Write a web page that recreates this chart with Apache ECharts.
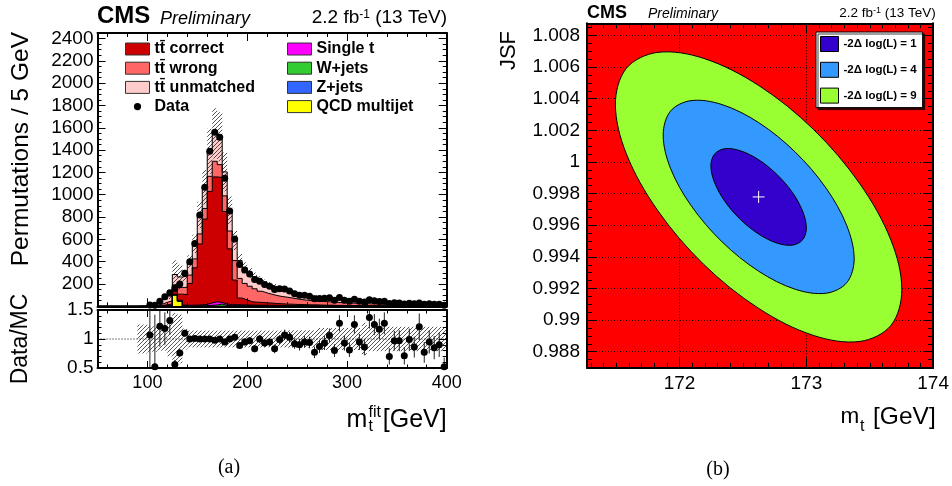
<!DOCTYPE html>
<html><head><meta charset="utf-8">
<script src="https://cdn.jsdelivr.net/npm/echarts@6/dist/echarts.min.js"></script>
<style>html,body{margin:0;padding:0;background:#fff;}#chart{width:952px;height:486px;}</style>
</head><body><div id="chart"></div>
<script>
const FONT = "'Liberation Sans', Arimo, Arial, sans-serif";
const SERIF = "'Liberation Serif', 'DejaVu Serif', serif";

// ---------- (a) m_t^fit distribution, 5 GeV bins (low edges) ----------
const binLow = [90,95,100,105,110,115,120,125,130,135,140,145,150,155,160,165,170,175,180,185,190,195,
  200,205,210,215,220,225,230,235,240,245,250,255,260,265,270,275,280,285,290,295,
  300,305,310,315,320,325,330,335,340,345,350,355,360,365,370,375,380,385,390,395];
const ttCorrect = [0,0, 0,1,3,8,14,35,55,95,195,335,545,765,1000,1120,1120,830,500,220,
  60,45,30,27,25,22,20,17,15,13,12,11,10,9,8,8,7,6,6,5,5,4,4,4,3,3,3,3,2,2,2,2,2,2,2,1,1,1,1,1,1,1];
const ttWrong = [1,1, 3,6,12,22,28,50,60,65,75,80,90,95,135,140,115,140,160,175,
  176,148,139,120,100,89,79,72,65,62,56,50,44,41,38,34,33,32,29,28,25,24,23,20,20,19,17,16,16,15,14,13,13,12,11,12,11,11,10,10,9,9];
const ttUnmatched = [2,3, 6,10,18,36,43,92,94,100,120,135,170,190,225,250,250,215,185,180,
  160,140,120,108,100,90,82,78,72,66,60,56,52,48,44,41,38,35,33,31,29,27,25,24,22,21,20,19,18,17,16,15,14,14,13,12,12,11,11,10,10,9];
const singleTop = [0,0, 1,1,2,3,4,4,5,6,6,7,9,12,22,28,15,12,10,9,
  8,7,6,6,5,5,5,5,5,4,4,3,3,3,3,3,2,2,2,2,2,2,2,2,2,1,1,1,1,1,1,1,1,1,1,1,1,1,1,1,1,1];
const wJets = [0,0, 1,1,2,3,3,3,3,4,4,3,5,5,8,12,20,8,5,6,
  5,4,4,3,4,3,3,2,2,2,2,2,2,1,1,1,1,1,1,1,1,1,1,1,1,1,1,1,1,1,1,1,0,0,0,0,0,0,0,0,0,0];
const zJets = [0,0, 0,0,0,0,0,1,1,0,0,0,0,0,0,0,0,0,0,0,
  1,1,1,1,1,1,1,1,1,1,1,1,1,1,1,1,1,1,1,0,0,0,0,0,0,0,0,0,0,0,0,0,0,0,0,0,0,0,0,0,0,0];
const qcdMultijet = [0,0, 0,0,0,0,0,100,45,0,0,0,0,0,0,0,0,0,0,0,
  0,0,0,0,0,0,0,0,0,0,0,0,0,0,0,0,0,0,0,0,0,0,0,0,0,0,0,0,0,0,0,0,0,0,0,0,0,0,0,0,0,0];
const dataCounts = [null,null, 12,10,45,85,122,160,200,296,400,562,819,1067,1390,1560,1515,1148,855,604,
  375,326,290,240,225,195,180,150,158,155,138,112,100,98,90,68,71,72,76,54,79,54,45,64,46,39,58,50,44,46,24,31,29,21,27,22,30,18,22,19,19,10];
const mcRelUnc = [0.25,0.25, 0.22,0.22,0.20,0.20,0.30,0.45,0.42,0.18,
  0.145,0.145,0.145,0.145,0.145,0.145,0.145,0.145,0.145,0.145,0.145,0.145,0.145,0.145,0.145,0.145,0.145,0.145,0.145,0.145,
  0.15,0.15,0.15,0.15,0.15,0.15, 0.19,0.19,0.19,0.19,0.19,0.19,0.19,0.19,0.19, 0.28,
  0.21,0.21,0.21,0.21,0.21,0.21,0.21,0.21,0.21,0.21,0.21,0.21,0.21,0.21,0.21,0.21];
const ratioVals = [null,null, 1.07,0.52,1.22,1.18,1.32,0.56,0.76,1.10,1.00,1.01,1.00,1.00,1.00,0.98,1.00,0.95,1.00,1.03,
  0.89,0.95,0.97,0.83,1.00,0.93,0.95,0.83,0.99,1.07,1.03,0.92,0.90,0.95,0.94,0.77,0.87,0.93,1.06,0.80,1.27,0.93,0.81,1.25,0.95,0.86,1.37,1.25,1.17,1.27,0.70,0.97,0.97,0.71,0.99,0.86,1.21,0.77,0.95,0.85,0.90,0.52];
const ratioErr = [null,null, 0.9,0.9,0.35,0.28,0.25,0.08,0.07,0.06,0.05,0.045,0.04,0.035,0.03,0.03,0.03,0.03,0.035,0.045,
  0.05,0.06,0.06,0.06,0.07,0.07,0.07,0.075,0.08,0.09,0.09,0.09,0.10,0.10,0.10,0.10,0.11,0.12,0.12,0.11,0.14,0.13,0.12,0.16,0.14,0.14,0.19,0.18,0.18,0.19,0.14,0.17,0.18,0.15,0.19,0.18,0.23,0.18,0.20,0.20,0.21,0.16];
const BIN_WIDTH = 5;
const MFIT_TICKS = [100, 200, 300, 400];
const MFIT_MINOR = [60, 80, 120, 140, 160, 180, 220, 240, 260, 280, 320, 340, 360, 380];

// ---------- (b) 2D likelihood contours ----------
const FIT_POINT = [172.6235, 0.99779];
const contour1 = [[173.000,0.99583],[172.971,0.99508],[172.890,0.99474],[172.768,0.99487],[172.624,0.99544],[172.479,0.99637],[172.357,0.99751],[172.276,0.99870],[172.247,0.99975],[172.276,1.00050],[172.357,1.00084],[172.479,1.00071],[172.624,1.00014],[172.768,0.99921],[172.890,0.99807],[172.971,0.99688]];
const contour4 = [[173.377,0.99387],[173.319,0.99237],[173.156,0.99170],[172.912,0.99195],[172.624,0.99309],[172.335,0.99495],[172.091,0.99724],[171.928,0.99961],[171.871,1.00171],[171.928,1.00321],[172.091,1.00388],[172.335,1.00363],[172.624,1.00249],[172.912,1.00063],[173.156,0.99834],[173.319,0.99597]];
const contour9 = [[173.753,0.99192],[173.667,0.98966],[173.422,0.98865],[173.056,0.98903],[172.624,0.99074],[172.191,0.99352],[171.825,0.99696],[171.580,1.00052],[171.494,1.00366],[171.580,1.00592],[171.825,1.00693],[172.191,1.00655],[172.624,1.00484],[173.056,1.00206],[173.422,0.99862],[173.667,0.99506]];
const MT_RANGE = [171.27, 174];
const JSF_RANGE = [0.98699, 1.00877];
const MT_TICKS = [172, 173, 174];
const JSF_TICKS = [0.988, 0.99, 0.992, 0.994, 0.996, 0.998, 1, 1.002, 1.004, 1.006, 1.008];
const MT_MINOR = []; for (let i = 1713; i <= 1739; i++) if (i % 10) MT_MINOR.push(i / 10);
const JSF_MINOR = []; for (let i = 1974; i <= 2017; i++) if (i % 4) JSF_MINOR.push(i * 5 / 10000);

// ---------- helpers ----------
const BLACK = '#000';
function makeHatch() {
  const c = document.createElement('canvas'); c.width = 4; c.height = 4;
  const g = c.getContext('2d');
  g.strokeStyle = 'rgba(0,0,0,0.85)'; g.lineWidth = 0.8;
  g.beginPath();
  g.moveTo(0, 4); g.lineTo(4, 0);
  g.moveTo(-1, 1); g.lineTo(1, -1);
  g.moveTo(3, 5); g.lineTo(5, 3);
  g.stroke();
  return c;
}
const HATCH = { image: makeHatch(), repeat: 'repeat' };
const FRAME = { show: true, onZero: false, lineStyle: { color: BLACK, width: 2 } };
function tickAx(grid, range, pos, ticks, len, extra) {
  return Object.assign({
    type: 'value', gridIndex: grid, min: range[0], max: range[1], position: pos, z: 6,
    axisLine: { show: false, onZero: false },
    axisTick: { show: true, inside: true, length: len, customValues: ticks, lineStyle: { color: BLACK, width: 1 } },
    axisLabel: { show: false }, splitLine: { show: false }, minorTick: { show: false }
  }, extra || {});
}
const MFIT_RANGE = [50, 400];
// stack order bottom -> top
const STACK = [
  { name: 'QCD multijet', vals: qcdMultijet, color: '#ffff00' },
  { name: 'Z+jets', vals: zJets, color: '#3366ff' },
  { name: 'W+jets', vals: wJets, color: '#33cc33' },
  { name: 'Single t', vals: singleTop, color: '#ff00ff' },
  { name: 'tt\u0304 correct', vals: ttCorrect, color: '#cc0000' },
  { name: 'tt\u0304 wrong', vals: ttWrong, color: '#ff6666' },
  { name: 'tt\u0304 unmatched', vals: ttUnmatched, color: '#ffcccc' }
];
// cumulative (stacked) heights, as a THStack draws them
let running = binLow.map(() => 0);
STACK.forEach(c => { running = running.map((v, i) => v + c.vals[i]); c.cum = running; });
const mcTotal = running;

function stepData(vals) {
  const d = [[MFIT_RANGE[0], 0]];
  binLow.forEach((x, i) => d.push([x, vals[i]]));
  d.push([MFIT_RANGE[1], vals[vals.length - 1]]);
  return d;
}

const series = [];
// draw tallest cumulative first, each filled down to zero, then smaller ones over it
STACK.slice().reverse().forEach(c => {
  series.push({ type: 'line', name: c.name, xAxisIndex: 0, yAxisIndex: 0, data: stepData(c.cum), step: 'end',
    symbol: 'none', silent: true, z: 2, itemStyle: { color: c.color },
    lineStyle: { color: BLACK, width: 1 }, areaStyle: { color: c.color, opacity: 1, origin: 'start' } });
});
function bandRender(params, api) {
  const p0 = api.coord([api.value(0), api.value(3)]);
  const p1 = api.coord([api.value(1), api.value(2)]);
  return { type: 'rect', shape: { x: p0[0], y: p0[1], width: p1[0] - p0[0], height: p1[1] - p0[1] },
    style: { fill: HATCH, stroke: null } };
}
series.push({ type: 'custom', name: '_mcunc', xAxisIndex: 0, yAxisIndex: 0, z: 4, clip: true, silent: true,
  data: binLow.map((x, i) => [x, x + BIN_WIDTH, mcTotal[i] * (1 - mcRelUnc[i]), mcTotal[i] * (1 + mcRelUnc[i])]),
  renderItem: bandRender });
series.push({ type: 'scatter', name: 'Data', xAxisIndex: 0, yAxisIndex: 0, z: 5, symbolSize: 7, silent: true,
  itemStyle: { color: BLACK, opacity: 1 },
  data: binLow.map((x, i) => dataCounts[i] == null ? null : [x + BIN_WIDTH / 2, dataCounts[i]]).filter(Boolean) });

// ratio panel
series.push({ type: 'line', name: '_one', xAxisIndex: 4, yAxisIndex: 2, z: 3, symbol: 'none', silent: true,
  data: [[MFIT_RANGE[0], 1], [MFIT_RANGE[1], 1]], lineStyle: { color: BLACK, width: 1, type: [1, 2] } });
series.push({ type: 'custom', name: '_ratiounc', xAxisIndex: 4, yAxisIndex: 2, z: 4, clip: true, silent: true,
  data: binLow.map((x, i) => [x, x + BIN_WIDTH, 1 - mcRelUnc[i], 1 + mcRelUnc[i]]), renderItem: bandRender });
series.push({ type: 'custom', name: '_ratioerr', xAxisIndex: 4, yAxisIndex: 2, z: 5, clip: true, silent: true,
  data: binLow.map((x, i) => ratioVals[i] == null ? null : [x + BIN_WIDTH / 2, ratioVals[i], ratioErr[i]]).filter(Boolean),
  renderItem(params, api) {
    const x = api.value(0), r = api.value(1), e = api.value(2);
    const a = api.coord([x, r - e]), b = api.coord([x, r + e]);
    return { type: 'line', shape: { x1: a[0], y1: a[1], x2: b[0], y2: b[1] }, style: { stroke: '#222', lineWidth: 1 } };
  } });
series.push({ type: 'scatter', name: '_ratio', xAxisIndex: 4, yAxisIndex: 2, z: 6, symbolSize: 7, silent: true,
  itemStyle: { color: BLACK, opacity: 1 },
  data: binLow.map((x, i) => ratioVals[i] == null ? null : [x + BIN_WIDTH / 2, ratioVals[i]]).filter(Boolean) });

// contour panel
function contourSeries(name, pts, color) {
  return { type: 'custom', name, xAxisIndex: 8, yAxisIndex: 4, z: 2, silent: true, data: pts,
    itemStyle: { color },
    renderItem(params, api) {
      if (params.dataIndex !== 0) return null;
      const points = pts.map(p => api.coord(p));
      return { type: 'polygon', shape: { points, smooth: 0.34 }, style: { fill: color, stroke: BLACK, lineWidth: 1 } };
    } };
}
const C9 = '#99ff33', C4 = '#3399ff', C1 = '#3300cc';
series.push(contourSeries('-2\u0394 log(L) = 9', contour9, C9));
series.push(contourSeries('-2\u0394 log(L) = 4', contour4, C4));
series.push(contourSeries('-2\u0394 log(L) = 1', contour1, C1));
series.push({ type: 'custom', name: '_fit', xAxisIndex: 8, yAxisIndex: 4, z: 3, silent: true, data: [FIT_POINT],
  renderItem(params, api) {
    const p = api.coord([api.value(0), api.value(1)]);
    return { type: 'group', children: [
      { type: 'line', shape: { x1: p[0] - 6, y1: p[1], x2: p[0] + 6, y2: p[1] }, style: { stroke: '#fff', lineWidth: 1 } },
      { type: 'line', shape: { x1: p[0], y1: p[1] - 6, x2: p[0], y2: p[1] + 6 }, style: { stroke: '#fff', lineWidth: 1 } }
    ] };
  } });

const labelStyle = (size, margin) => ({ show: true, fontSize: size, fontFamily: FONT, color: BLACK, margin });
const xAxis = [
  tickAx(0, MFIT_RANGE, 'bottom', MFIT_TICKS, 8, { axisLine: FRAME }),
  tickAx(0, MFIT_RANGE, 'bottom', MFIT_MINOR, 4),
  tickAx(0, MFIT_RANGE, 'top', MFIT_TICKS, 8, { axisLine: FRAME }),
  tickAx(0, MFIT_RANGE, 'top', MFIT_MINOR, 4),
  tickAx(1, MFIT_RANGE, 'bottom', MFIT_TICKS, 7, { axisLine: FRAME,
    axisLabel: Object.assign(labelStyle(18, 6), { customValues: MFIT_TICKS }) }),
  tickAx(1, MFIT_RANGE, 'bottom', MFIT_MINOR, 3.5),
  tickAx(1, MFIT_RANGE, 'top', MFIT_TICKS, 7, { axisLine: FRAME }),
  tickAx(1, MFIT_RANGE, 'top', MFIT_MINOR, 3.5),
  tickAx(2, MT_RANGE, 'bottom', MT_TICKS, 10, { z: 1, axisLine: FRAME,
    axisLabel: Object.assign(labelStyle(19, 7), { customValues: MT_TICKS }),
    splitLine: { show: true, lineStyle: { color: BLACK, width: 1, type: [1, 2] } } }),
  tickAx(2, MT_RANGE, 'bottom', MT_MINOR, 5, { z: 1 }),
  tickAx(2, MT_RANGE, 'top', MT_TICKS, 10, { z: 1, axisLine: FRAME }),
  tickAx(2, MT_RANGE, 'top', MT_MINOR, 5, { z: 1 })
];
const mainY = (pos, labels) => ({
  type: 'value', gridIndex: 0, min: 0, max: 2450, interval: 200, position: pos, z: 6,
  axisLine: FRAME, axisTick: { inside: true, length: 8, lineStyle: { color: BLACK } },
  minorTick: { show: true, splitNumber: 4, length: 4, lineStyle: { color: BLACK } },
  axisLabel: labels ? Object.assign(labelStyle(19, 4), { formatter: v => (v > 0 && v % 200 === 0) ? String(v) : '' }) : { show: false },
  splitLine: { show: false }
});
const ratioY = (pos, labels) => ({
  type: 'value', gridIndex: 1, min: 0.5, max: 1.5, interval: 0.5, position: pos, z: 6,
  axisLine: FRAME, axisTick: { inside: true, length: 8, lineStyle: { color: BLACK } },
  minorTick: { show: true, splitNumber: 5, length: 4, lineStyle: { color: BLACK } },
  axisLabel: labels ? labelStyle(19, 4) : { show: false }, splitLine: { show: false }
});
const yAxis = [
  mainY('left', true), mainY('right', false),
  ratioY('left', true), ratioY('right', false),
  tickAx(2, JSF_RANGE, 'left', JSF_TICKS, 10, { z: 1, axisLine: FRAME,
    axisLabel: Object.assign(labelStyle(19, 7), { customValues: JSF_TICKS, formatter: v => String(Math.round(v * 1000) / 1000) }),
    splitLine: { show: true, lineStyle: { color: BLACK, width: 1, type: [1, 2] } } }),
  tickAx(2, JSF_RANGE, 'left', JSF_MINOR, 5, { z: 1 }),
  tickAx(2, JSF_RANGE, 'right', JSF_TICKS, 10, { z: 1, axisLine: FRAME }),
  tickAx(2, JSF_RANGE, 'right', JSF_MINOR, 5, { z: 1 })
];

const dotIcon = 'image://data:image/svg+xml;utf8,' + encodeURIComponent(
  "<svg xmlns='http://www.w3.org/2000/svg' width='24' height='12'><circle cx='12' cy='6' r='3.6' fill='black'/></svg>");
const legItem = (name, color, border) => ({ name, icon: 'rect', itemStyle: { color, borderColor: border || '#333', borderWidth: 1 } });
const stackColor = n => STACK.find(s => s.name === n).color;
const legText = { fontFamily: FONT, fontWeight: 'bold', fontSize: 16, color: BLACK, lineHeight: 13 };
const legend = [
  { left: 125, top: 41, orient: 'vertical', itemWidth: 24, itemHeight: 12, itemGap: 3.2, padding: 0, selectedMode: false,
    textStyle: legText,
    data: [legItem('tt\u0304 correct', stackColor('tt\u0304 correct')), legItem('tt\u0304 wrong', stackColor('tt\u0304 wrong')),
      legItem('tt\u0304 unmatched', stackColor('tt\u0304 unmatched')), { name: 'Data', icon: dotIcon }] },
  { left: 287, top: 41, orient: 'vertical', itemWidth: 24, itemHeight: 12, itemGap: 3.2, padding: 0, selectedMode: false,
    textStyle: legText,
    data: ['Single t', 'W+jets', 'Z+jets', 'QCD multijet'].map(n => legItem(n, stackColor(n))) },
  { left: 816, top: 32, orient: 'vertical', itemWidth: 18, itemHeight: 15, itemGap: 9.8, padding: [4, 6, 4, 4],
    backgroundColor: '#fff', borderColor: BLACK, borderWidth: 1, shadowColor: 'rgba(0,0,0,0.75)', shadowOffsetX: 2, shadowOffsetY: 2,
    selectedMode: false, textStyle: { fontFamily: FONT, fontWeight: 'bold', fontSize: 11.5, color: BLACK, lineHeight: 15 },
    data: [legItem('-2\u0394 log(L) = 1', C1, BLACK), legItem('-2\u0394 log(L) = 4', C4, BLACK), legItem('-2\u0394 log(L) = 9', C9, BLACK)] }
];

const txt = (x, y, text, size, extra) => ({ type: 'text', x, y, silent: true, z: 10,
  style: Object.assign({ text, fontSize: size, fontFamily: FONT, fill: BLACK, align: 'left', verticalAlign: 'middle' }, extra || {}) });
const lumi = (x, y, size) => ({ type: 'text', x, y, silent: true, z: 10,
  style: { text: '{a|2.2 fb}{s|-1}{a| (13 TeV)}', align: 'right', verticalAlign: 'middle',
    rich: { a: { fontSize: size, fontFamily: FONT, fill: BLACK },
      s: { fontSize: Math.round(size * 0.65), fontFamily: FONT, fill: BLACK, verticalAlign: 'top' } } } });
const graphic = [
  txt(97, 16.5, 'CMS', 24, { fontWeight: 'bold' }),
  txt(160, 18.5, 'Preliminary', 18, { fontStyle: 'italic' }),
  lumi(447, 18, 19),
  txt(587, 13.5, 'CMS', 18, { fontWeight: 'bold' }),
  txt(648, 14, 'Preliminary', 14, { fontStyle: 'italic' }),
  lumi(935.7, 13.5, 13.5),
  Object.assign(txt(21, 32, 'Permutations / 5 GeV', 24.5, { align: 'right' }), { rotation: Math.PI / 2 }),
  Object.assign(txt(21, 339, 'Data/MC', 23, { align: 'center' }), { rotation: Math.PI / 2 }),
  Object.assign(txt(508.5, 31, 'JSF', 22, { align: 'right' }), { rotation: Math.PI / 2 }),
  txt(346.5, 419.7, 'm', 25),
  txt(368.5, 412.7, 'fit', 16),
  txt(368.5, 426.7, 't', 16),
  txt(446.7, 419.7, '[GeV]', 25, { align: 'right' }),
  txt(840.5, 417, 'm', 22.5),
  txt(860, 426.7, 't', 16),
  txt(935.7, 417, '[GeV]', 24.5, { align: 'right' }),
  txt(229, 468, '(a)', 20, { align: 'center', fontFamily: SERIF }),
  txt(718, 470, '(b)', 20, { align: 'center', fontFamily: SERIF })
];

const chart = echarts.init(document.getElementById('chart'), null, { renderer: 'canvas', width: 952, height: 486 });
chart.setOption({
  animation: false,
  backgroundColor: '#fff',
  grid: [
    { left: 97.5, top: 33, width: 349.2, height: 273.3 },
    { left: 97.5, top: 310, width: 349.2, height: 58 },
    { left: 587, top: 23.3, width: 348.7, height: 344.4, show: true, backgroundColor: '#ff0000', borderWidth: 0 }
  ],
  xAxis, yAxis, legend, series, graphic
});
</script></body></html>
